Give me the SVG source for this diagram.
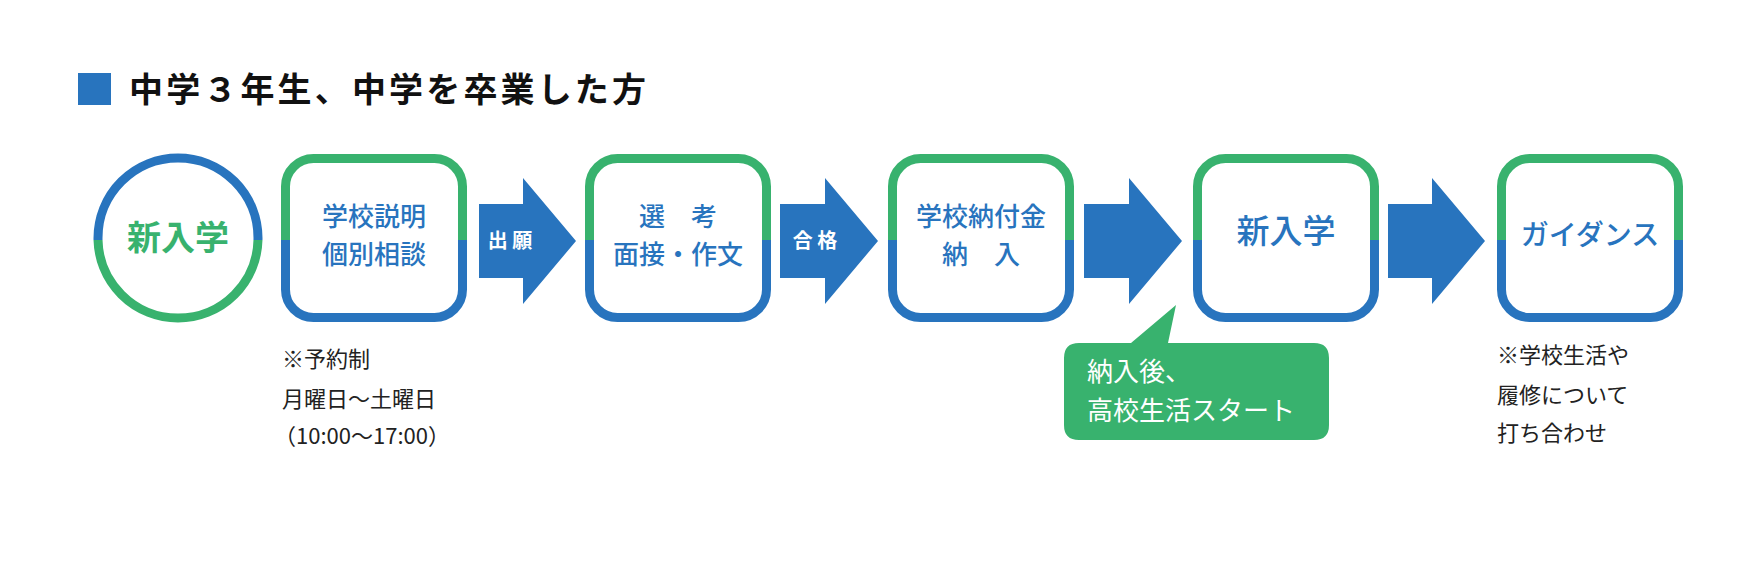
<svg xmlns="http://www.w3.org/2000/svg" width="1754" height="563" viewBox="0 0 1754 563">
<defs>
<clipPath id="top"><rect x="0" y="0" width="1754" height="240"/></clipPath>
<clipPath id="bot"><rect x="0" y="240" width="1754" height="323"/></clipPath>
<style>
text{font-family:"Noto Sans CJK JP","Noto Sans",sans-serif}
.b{stroke:#2874BE;fill:none;stroke-width:9}
.g{stroke:#38B26E;fill:none;stroke-width:9}
.bt{fill:#2874BE;font-size:26px;font-weight:500;text-anchor:middle}
.wt{fill:#fff;font-size:20px;font-weight:700;text-anchor:middle}
.note{fill:#222;font-size:22px}
.arr{fill:#2874BE}
</style>
</defs>
<rect width="1754" height="563" fill="#fff"/>
<g id="title">
<rect x="78" y="73" width="33" height="32" fill="#2874BE"/>
<text x="129" y="102" font-size="34" font-weight="700" fill="#111" textLength="517">中学３年生、中学を卒業した方</text>
</g>
<g id="n0">
<circle cx="178" cy="238" r="80" class="b" clip-path="url(#top)"/>
<circle cx="178" cy="238" r="80" class="g" clip-path="url(#bot)"/>
<text x="178" y="250" font-size="34" font-weight="700" fill="#38B26E" text-anchor="middle">新入学</text>
</g>
<g id="n1">
<rect x="285.5" y="158.5" width="177" height="159" rx="28" class="g" clip-path="url(#top)"/>
<rect x="285.5" y="158.5" width="177" height="159" rx="28" class="b" clip-path="url(#bot)"/>
<text x="374" y="226" class="bt">学校説明</text>
<text x="374" y="264" class="bt">個別相談</text>
</g>
<g id="n2">
<rect x="589.5" y="158.5" width="177" height="159" rx="28" class="g" clip-path="url(#top)"/>
<rect x="589.5" y="158.5" width="177" height="159" rx="28" class="b" clip-path="url(#bot)"/>
<text x="678" y="226" class="bt" xml:space="preserve">選　考</text>
<text x="678" y="264" class="bt">面接・作文</text>
</g>
<g id="n3">
<rect x="892.5" y="158.5" width="177" height="159" rx="28" class="g" clip-path="url(#top)"/>
<rect x="892.5" y="158.5" width="177" height="159" rx="28" class="b" clip-path="url(#bot)"/>
<text x="981" y="226" class="bt">学校納付金</text>
<text x="981" y="264" class="bt" xml:space="preserve">納　入</text>
</g>
<g id="n4">
<rect x="1197.5" y="158.5" width="177" height="159" rx="28" class="g" clip-path="url(#top)"/>
<rect x="1197.5" y="158.5" width="177" height="159" rx="28" class="b" clip-path="url(#bot)"/>
<text x="1286" y="243" class="bt" style="font-size:33px">新入学</text>
</g>
<g id="n5">
<rect x="1501.5" y="158.5" width="177" height="159" rx="28" class="g" clip-path="url(#top)"/>
<rect x="1501.5" y="158.5" width="177" height="159" rx="28" class="b" clip-path="url(#bot)"/>
<text x="1590" y="245" class="bt" style="font-size:28px">ガイダンス</text>
</g>
<g id="connectors">
<polygon class="arr" points="479,204 523,204 523,178 576,241 523,304 523,278 479,278"/>
<text x="510" y="248" class="wt">出 願</text>
<polygon class="arr" points="780,204 825,204 825,178 878,241 825,304 825,278 780,278"/>
<text x="815" y="248" class="wt">合 格</text>
<polygon class="arr" points="1084,204 1129,204 1129,178 1182,241 1129,304 1129,278 1084,278"/>
<polygon class="arr" points="1388,204 1432,204 1432,178 1485,241 1432,304 1432,278 1388,278"/>
</g>
<g id="bubble">
<path d="M1079,343 H1131 L1176,305 L1168,343 H1314 Q1329,343 1329,358 V425 Q1329,440 1314,440 H1079 Q1064,440 1064,425 V358 Q1064,343 1079,343 Z" fill="#38B26E"/>
<text x="1087" y="381" fill="#fff" font-size="26">納入後、</text>
<text x="1087" y="420" fill="#fff" font-size="26">高校生活スタート</text>
</g>
<g id="note1">
<text x="282" y="367" class="note">※予約制</text>
<text x="282" y="407" class="note">月曜日～土曜日</text>
<text x="274" y="444" class="note">（10:00～17:00）</text>
</g>
<g id="note2">
<text x="1497" y="363" class="note">※学校生活や</text>
<text x="1497" y="403" class="note">履修について</text>
<text x="1497" y="441" class="note">打ち合わせ</text>
</g>
</svg>
